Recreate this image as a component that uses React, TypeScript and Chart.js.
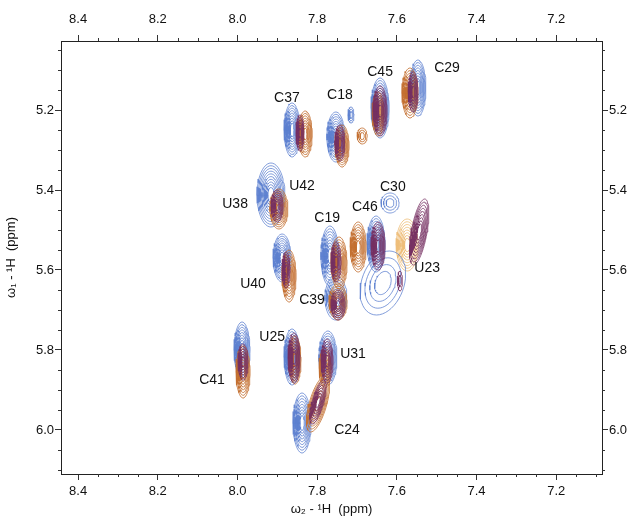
import React, { useEffect, useRef } from "react";
import { Chart, registerables } from "chart.js";

Chart.register(...registerables);

// ---- axes ----
const X_MIN = 7.085;
const X_MAX = 8.443;
const Y_MIN = 5.0275;
const Y_MAX = 6.11;
const X_TICKS = [8.4, 8.2, 8.0, 7.8, 7.6, 7.4, 7.2];
const Y_TICKS = [5.2, 5.4, 5.6, 5.8, 6.0];
const X_TITLE = "ω₂ - ¹H  (ppm)";
const Y_TITLE = "ω₁ - ¹H  (ppm)";

// ---- peak assignments (labels) ----
const labelNames = ["C37", "C18", "C45", "C29", "U42", "U38", "C30", "C46", "C19", "U23", "U40", "C39", "U25", "U31", "C41", "C24"];
const labelX = [7.876, 7.743, 7.642, 7.474, 7.838, 8.006, 7.61, 7.68, 7.775, 7.524, 7.961, 7.813, 7.913, 7.71, 8.064, 7.725];
const labelY = [5.17, 5.1625, 5.105, 5.095, 5.39, 5.435, 5.3925, 5.4425, 5.47, 5.595, 5.635, 5.675, 5.7675, 5.81, 5.875, 6.0];

// ---- contour peaks: spectrum B = blue, O = orange, P = purple, L = light orange ----
const peakSpectrum = [
  "B", "B", "B", "B", "B", "B", "B", "B", "B", "B", "B", "B", "B", "B", "B", "B",
  "L",
  "O", "O", "O", "O", "O", "O", "O", "O", "O", "O", "O", "O", "O", "O",
  "P", "P", "P", "P", "P", "P", "P", "P", "P", "P", "P", "P", "P", "P", "P",
];
const peakX = [
  7.863, 7.753, 7.715, 7.642, 7.547, 7.916, 7.888, 7.768, 7.753, 7.652, 7.635, 7.617, 7.9885, 7.863, 7.773, 7.838,
  7.574,
  7.83, 7.7375, 7.687, 7.647, 7.567, 7.896, 7.8705, 7.745, 7.7475, 7.697, 7.986, 7.8555, 7.78, 7.798,
  7.843, 7.743, 7.642, 7.559, 7.9006, 7.878, 7.7525, 7.7475, 7.647, 7.544, 7.592, 7.986, 7.858, 7.775, 7.798,
];
const peakY = [
  5.25, 5.2675, 5.2125, 5.195, 5.145, 5.4125, 5.57, 5.565, 5.67, 5.535, 5.6325, 5.4325, 5.8, 5.8175, 5.82, 5.9825,
  5.5375,
  5.26, 5.29, 5.265, 5.21, 5.1575, 5.4475, 5.615, 5.5825, 5.68, 5.5425, 5.855, 5.825, 5.845, 5.935,
  5.2575, 5.2825, 5.2025, 5.155, 5.44, 5.6, 5.58, 5.6875, 5.54, 5.505, 5.6275, 5.83, 5.82, 5.8275, 5.93,
];
const peakRx = [
  0.02, 0.0226, 0.0075, 0.0226, 0.02, 0.035, 0.0226, 0.0226, 0.0276, 0.0226, 0.055, 0.0226, 0.02, 0.02, 0.0226, 0.0226,
  0.0276,
  0.0176, 0.0176, 0.0125, 0.015, 0.02, 0.0226, 0.0176, 0.02, 0.0226, 0.02, 0.0176, 0.015, 0.015, 0.0226,
  0.01, 0.0125, 0.0176, 0.0125, 0.015, 0.01, 0.0125, 0.0176, 0.0176, 0.02, 0.006, 0.0125, 0.015, 0.015, 0.015,
];
const peakRy = [
  0.0675, 0.0625, 0.02, 0.075, 0.07, 0.08, 0.06, 0.075, 0.055, 0.07, 0.08, 0.025, 0.07, 0.07, 0.0675, 0.075,
  0.065,
  0.0575, 0.0525, 0.02, 0.055, 0.0625, 0.05, 0.065, 0.065, 0.045, 0.0625, 0.065, 0.06, 0.05, 0.07,
  0.045, 0.045, 0.0625, 0.05, 0.04, 0.045, 0.05, 0.0375, 0.06, 0.0825, 0.025, 0.045, 0.0625, 0.055, 0.055,
];
const peakLevels = [
  9, 9, 3, 10, 9, 10, 9, 9, 7, 9, 4, 3, 9, 9, 9, 9,
  8,
  8, 8, 3, 7, 8, 8, 8, 8, 7, 8, 8, 7, 6, 8,
  6, 6, 9, 6, 6, 6, 6, 6, 8, 9, 2, 6, 8, 7, 7,
];
const peakShear = [
  0, 0, 0, 0, 0, 0, 0, 0, 0, 0, 0.2, 0, 0, 0, 0, 0,
  0,
  0, 0, 0, 0, 0, 0, 0, 0, 0, 0, 0, 0, 0, 0.26,
  0, 0, 0, 0, 0, 0, 0, 0, 0, 0.17, 0, 0, 0, 0, 0.26,
];

const SPECTRUM_COLOR: Record<string, string> = {
  B: "rgba(92,128,208,0.85)",
  L: "rgba(238,190,120,0.9)",
  O: "rgba(196,112,48,0.9)",
  P: "rgba(118,48,98,0.85)",
};
const SPECTRUM_ORDER: Record<string, number> = { L: 5, B: 4, O: 3, P: 2 };

function ringPoints(cx: number, cy: number, rx: number, ry: number, shear: number, n: number) {
  const pts: any[] = [];
  for (let k = 0; k < n; k++) {
    const f = 1 - (k / n) * 0.85;
    for (let i = 0; i <= 48; i++) {
      const t = (i / 48) * Math.PI * 2;
      const dy = ry * f * Math.sin(t);
      pts.push({ x: cx + rx * f * Math.cos(t) + shear * dy, y: cy + dy });
    }
    pts.push({ x: null, y: null });
  }
  return pts;
}

const FONT = "'Liberation Sans', Arial, Helvetica, sans-serif";

const minorTicks = {
  id: "minorTicks",
  afterDraw(chart: any) {
    const ctx = chart.ctx;
    const area = chart.chartArea;
    ctx.save();
    ctx.strokeStyle = "#333";
    ctx.lineWidth = 1;
    const xs = chart.scales.x;
    for (let i = Math.ceil(X_MIN * 20); i <= Math.floor(X_MAX * 20); i++) {
      if (i % 4 === 0) continue;
      const px = Math.round(xs.getPixelForValue(i / 20)) + 0.5;
      ctx.beginPath();
      ctx.moveTo(px, area.top);
      ctx.lineTo(px, area.top - 3);
      ctx.moveTo(px, area.bottom);
      ctx.lineTo(px, area.bottom + 3);
      ctx.stroke();
    }
    const ys = chart.scales.y;
    for (let i = Math.ceil(Y_MIN * 20); i <= Math.floor(Y_MAX * 20); i++) {
      if (i % 4 === 0) continue;
      const py = Math.round(ys.getPixelForValue(i / 20)) + 0.5;
      ctx.beginPath();
      ctx.moveTo(area.left, py);
      ctx.lineTo(area.left - 3, py);
      ctx.moveTo(area.right, py);
      ctx.lineTo(area.right + 3, py);
      ctx.stroke();
    }
    ctx.restore();
  },
};

const peakLabels = {
  id: "peakLabels",
  afterDatasetsDraw(chart: any) {
    const ctx = chart.ctx;
    ctx.save();
    ctx.fillStyle = "#111";
    ctx.font = `14px ${FONT}`;
    ctx.textAlign = "center";
    ctx.textBaseline = "middle";
    const xs = chart.scales.x;
    const ys = chart.scales.y;
    labelNames.forEach((name, i) => {
      ctx.fillText(name, xs.getPixelForValue(labelX[i]), ys.getPixelForValue(labelY[i]));
    });
    ctx.restore();
  },
};

const whiteBg = {
  id: "whiteBg",
  beforeDraw(chart: any) {
    const ctx = chart.ctx;
    ctx.save();
    ctx.fillStyle = "#fff";
    ctx.fillRect(0, 0, chart.width, chart.height);
    ctx.restore();
  },
};

export default function App() {
  const ref = useRef<HTMLCanvasElement | null>(null);

  useEffect(() => {
    if (!ref.current) return;
    const datasets = peakX.map((cx, i) => {
      const s = peakSpectrum[i];
      return {
        label: `${s}${i}`,
        data: ringPoints(cx, peakY[i], peakRx[i], peakRy[i], peakShear[i], peakLevels[i]),
        showLine: true,
        spanGaps: false,
        borderColor: SPECTRUM_COLOR[s],
        borderWidth: 0.9,
        pointRadius: 0,
        fill: false,
        tension: 0,
        order: SPECTRUM_ORDER[s],
        xAxisID: "x",
        yAxisID: "y",
      };
    });

    const tickFont = { family: FONT, size: 13 };
    const border = { display: true, color: "#222", width: 1 };
    const grid = { drawOnChartArea: false, drawTicks: true, tickLength: 6, color: "#333" };

    const xAxis = (position: string, height: number, pad: number, title: boolean) => ({
      type: "linear",
      position,
      min: X_MIN,
      max: X_MAX,
      reverse: true,
      border,
      grid,
      afterBuildTicks: (s: any) => {
        s.ticks = X_TICKS.map((v) => ({ value: v }));
      },
      afterFit: (s: any) => {
        s.height = height;
      },
      ticks: {
        font: tickFont,
        color: "#111",
        padding: pad,
        maxRotation: 0,
        autoSkip: false,
        callback: (v: any) => Number(v).toFixed(1),
      },
      title: title
        ? { display: true, text: X_TITLE, font: { family: FONT, size: 13 }, color: "#111", padding: { top: 0, bottom: 0 } }
        : { display: false },
    });

    const yAxis = (position: string, width: number, pad: number, title: boolean) => ({
      type: "linear",
      position,
      min: Y_MIN,
      max: Y_MAX,
      reverse: true,
      border,
      grid,
      afterBuildTicks: (s: any) => {
        s.ticks = Y_TICKS.map((v) => ({ value: v }));
      },
      afterFit: (s: any) => {
        s.width = width;
      },
      ticks: {
        font: tickFont,
        color: "#111",
        padding: pad,
        autoSkip: false,
        callback: (v: any) => Number(v).toFixed(1),
      },
      title: title
        ? { display: true, text: Y_TITLE, font: { family: FONT, size: 13 }, color: "#111", padding: { top: 4, bottom: 0 } }
        : { display: false },
    });

    const chart = new Chart(ref.current, {
      type: "scatter",
      data: { datasets } as any,
      options: {
        responsive: false,
        animation: false,
        events: [],
        layout: { padding: 0 },
        plugins: { legend: { display: false }, tooltip: { enabled: false } },
        elements: { line: { borderCapStyle: "round", borderJoinStyle: "round" } },
        scales: {
          x: xAxis("bottom", 43, 4, true),
          x2: xAxis("top", 41, 8, false),
          y: yAxis("left", 61, 1, true),
          y2: yAxis("right", 27, 1, false),
        } as any,
      },
      plugins: [whiteBg, minorTicks, peakLabels],
    });
    return () => chart.destroy();
  }, []);

  return (
    <div style={{ position: "fixed", left: 0, top: 0, width: 629, height: 517, background: "#fff" }}>
      <canvas ref={ref} width={629} height={517} style={{ display: "block" }} />
    </div>
  );
}
